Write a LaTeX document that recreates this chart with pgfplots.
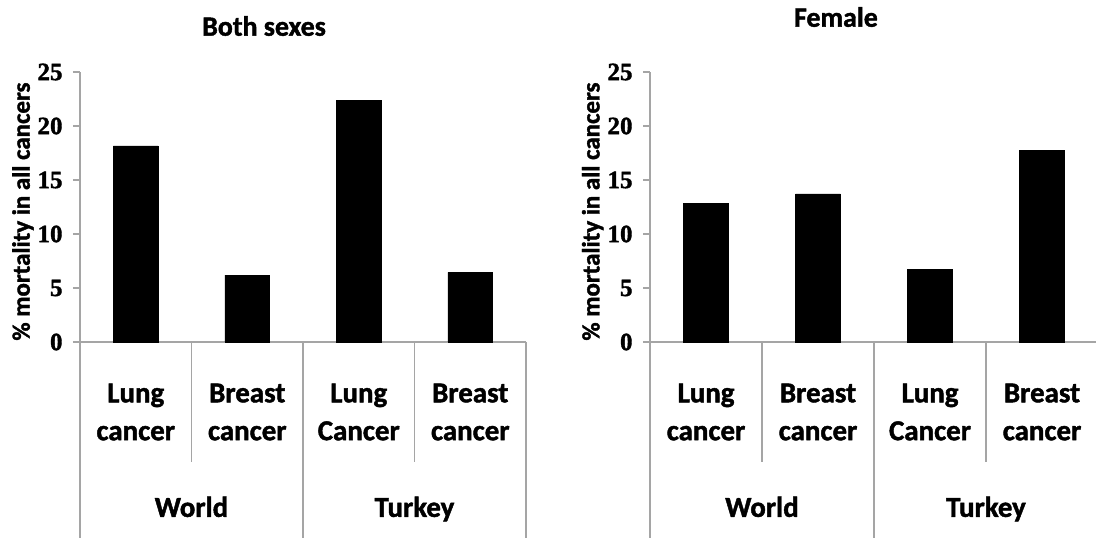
\documentclass[border=0pt]{standalone}
\usepackage{fontspec}
\setmainfont{Carlito}[BoldFeatures={FakeBold=1.5}]
\newfontfamily\tickfont{Liberation Serif}[BoldFeatures={FakeBold=1.5}]
\usepackage{pgfplots}
\pgfplotsset{compat=1.18}
\definecolor{axisgray}{RGB}{165,165,165}
\pgfplotsset{panel/.style={
  scale only axis, height=270bp,
  xmin=0, xmax=4, ymin=0, ymax=25,
  clip=false,
  axis x line*=bottom, axis y line*=left,
  axis line style={axisgray, line width=1.2bp},
  ytick={0,5,...,25},
  tick align=outside,
  major tick length=7bp,
  y tick style={axisgray, line width=1.2bp},
  x tick style={draw=none},
  xtick={0.5,1.5,2.5,3.5},
  xticklabels={{Lung\\cancer},{Breast\\cancer},{Lung\\Cancer},{Breast\\cancer}},
  xticklabel style={align=center, font=\fontsize{29}{38}\selectfont\bfseries, anchor=center, yshift=-63bp},
  yticklabel style={font=\fontsize{25}{26}\selectfont\tickfont\bfseries, xshift=-7bp},
  /pgf/number format/assume math mode=true,
  extra x ticks={1,3}, extra x tick labels={World,Turkey},
  extra x tick style={xticklabel style={yshift=-95bp, text height=19.7bp, text depth=0bp}},
  ybar, bar width=0.4,
  ylabel={\% mortality in all cancers},
  every axis y label/.style={at={(axis description cs:-0.128,0.483)}, rotate=90, anchor=center, font=\fontsize{25}{30}\selectfont\bfseries},
  title style={font=\fontsize{28}{30}\selectfont\bfseries, anchor=center},
}}
\begin{document}
\begin{tikzpicture}[x=1bp,y=1bp]
\useasboundingbox (0,0) rectangle (1096,538);
\begin{axis}[panel, width=446bp, at={(80bp,196bp)}, anchor=south west,
  title={Both sexes}, title style={at={(axis description cs:0.4126,1)}, yshift=40bp}]
\addplot[fill=black, draw=black] coordinates {(0.5,18.17) (1.5,6.19) (2.5,22.4) (3.5,6.44)};
\draw[axisgray, line width=1.2bp] (axis cs:1,0) -- ++(0,-120bp);
\draw[axisgray, line width=1.2bp] (axis cs:3,0) -- ++(0,-120bp);
\draw[axisgray, line width=1.2bp] (axis cs:0,0) -- ++(0,-200bp);
\draw[axisgray, line width=1.2bp] (axis cs:2,0) -- ++(0,-200bp);
\draw[axisgray, line width=1.2bp] (axis cs:4,0) -- ++(0,-200bp);
\end{axis}
\begin{axis}[panel, width=448bp, at={(650bp,196bp)}, anchor=south west,
  title={Female}, title style={at={(axis description cs:0.415,1)}, yshift=49bp}]
\addplot[fill=black, draw=black] coordinates {(0.5,12.85) (1.5,13.72) (2.5,6.72) (3.5,17.74)};
\draw[axisgray, line width=1.2bp] (axis cs:1,0) -- ++(0,-120bp);
\draw[axisgray, line width=1.2bp] (axis cs:3,0) -- ++(0,-120bp);
\draw[axisgray, line width=1.2bp] (axis cs:0,0) -- ++(0,-200bp);
\draw[axisgray, line width=1.2bp] (axis cs:2,0) -- ++(0,-200bp);
\draw[axisgray, line width=1.2bp] (axis cs:4,0) -- ++(0,-200bp);
\end{axis}
\end{tikzpicture}
\end{document}
